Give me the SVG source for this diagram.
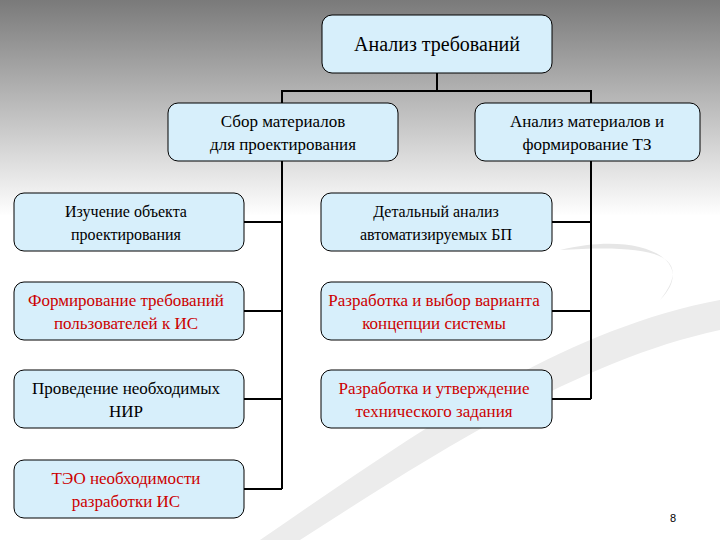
<svg xmlns="http://www.w3.org/2000/svg" width="720" height="540" viewBox="0 0 720 540">
<defs>
<linearGradient id="bg" x1="0" y1="0" x2="0" y2="1">
<stop offset="0" stop-color="#7a7a7a"/>
<stop offset="0.4" stop-color="#ffffff"/>
<stop offset="1" stop-color="#ffffff"/>
</linearGradient>
<style>
.n rect{fill:#d7effb;stroke:#000;stroke-width:1}
.n text{font-size:17px;text-anchor:middle}
.r text{fill:#cc0000}
#c path{fill:none;stroke:#000;stroke-width:2}
</style>
</defs>
<rect width="720" height="540" fill="url(#bg)"/>
<path d="M260 540 C420 430 560 330 720 300 L720 330 C580 360 440 450 300 540 Z" fill="#ececec"/>
<path d="M560 250 C640 230 700 260 660 300 C700 250 640 245 560 250 Z" fill="#e6e6e6"/>
<g id="c">
<path d="M437 73V91M282 103V91H591V103"/>
<path d="M282 161V489M244 222H282M244 311H282M244 399H282M244 489H282"/>
<path d="M591 161V399M552 222H591M552 311H591M552 399H591"/>
</g>
<g font-family="Liberation Serif, DejaVu Serif, serif">
<g id="root" class="n"><rect x="322" y="15" width="230" height="58" rx="10"/><text x="437" y="51" style="font-size:20px">Анализ требований</text></g>
<g id="l2a" class="n"><rect x="168" y="103" width="230" height="58" rx="10"/><text x="283" y="127">Сбор материалов</text><text x="283" y="150">для проектирования</text></g>
<g id="l2b" class="n"><rect x="475" y="103" width="225" height="58" rx="10"/><text x="587" y="127">Анализ материалов и</text><text x="587" y="150">формирование ТЗ</text></g>
<g id="a1" class="n"><rect x="14" y="193" width="230" height="58" rx="10"/><text x="126" y="217" style="font-size:16px">Изучение объекта</text><text x="126" y="240" style="font-size:16px">проектирования</text></g>
<g id="a2" class="n r"><rect x="14" y="282" width="230" height="58" rx="10"/><text x="126" y="306">Формирование требований</text><text x="126" y="329">пользователей к ИС</text></g>
<g id="a3" class="n"><rect x="14" y="370" width="230" height="58" rx="10"/><text x="126" y="394">Проведение необходимых</text><text x="126" y="417">НИР</text></g>
<g id="a4" class="n r"><rect x="14" y="460" width="230" height="58" rx="10"/><text x="126" y="484">ТЭО необходимости</text><text x="126" y="507">разработки ИС</text></g>
<g id="b1" class="n"><rect x="321" y="193" width="231" height="58" rx="10"/><text x="436" y="217" style="font-size:16px">Детальный анализ</text><text x="436" y="240" style="font-size:16px">автоматизируемых БП</text></g>
<g id="b2" class="n r"><rect x="321" y="282" width="231" height="58" rx="10"/><text x="434" y="306">Разработка и выбор варианта</text><text x="434" y="329">концепции системы</text></g>
<g id="b3" class="n r"><rect x="321" y="370" width="231" height="58" rx="10"/><text x="434" y="394">Разработка и утверждение</text><text x="434" y="417">технического задания</text></g>
</g>
<text x="673" y="522" font-family="Liberation Sans, sans-serif" font-size="11" text-anchor="middle">8</text>
</svg>
